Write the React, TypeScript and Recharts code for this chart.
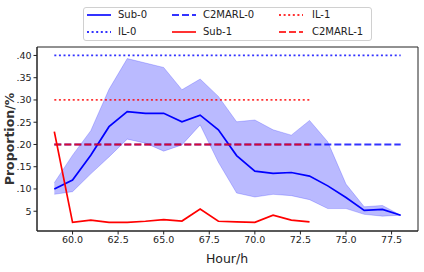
import React from 'react';
import { ComposedChart, Line, Area, XAxis, YAxis, ReferenceArea, Label } from 'recharts';

const hours = [59, 60, 61, 62, 63, 64, 65, 66, 67, 68, 69, 70, 71, 72, 73, 74, 75, 76, 77, 78];
const sub0 = [10.0, 12.0, 17.6, 24.0, 27.4, 27.0, 27.0, 25.1, 26.6, 23.3, 17.5, 14.0, 13.5, 13.7, 12.9, 10.7, 8.1, 5.2, 5.4, 4.1];
const sub0Low = [8.8, 9.4, 13.4, 17.2, 21.2, 20.3, 18.5, 19.9, 24.4, 16.0, 9.1, 8.2, 8.8, 8.5, 7.6, 5.6, 5.6, 4.3, 3.9, 4.1];
const sub0High = [11.4, 17.6, 23.1, 32.4, 39.3, 38.3, 37.3, 32.3, 34.7, 30.8, 25.1, 25.5, 23.3, 22.1, 25.4, 20.6, 11.1, 6.0, 6.3, 4.1];
const sub1 = [22.9, 2.5, 3.0, 2.5, 2.5, 2.75, 3.1, 2.8, 5.5, 2.75, 2.6, 2.5, 4.1, 3.0, 2.6];
const il0Level = 40;
const c2marl0Level = 20;
const il1Level = 30;
const c2marl1Level = 20;

const xTicks = [60, 62.5, 65, 67.5, 70, 72.5, 75, 77.5];
const yTicks = [5, 10, 15, 20, 25, 30, 35, 40];
const yTickLabels = ['5', '.10', '.15', '.20', '.25', '.30', '.35', '.40'];

const rows = hours.map((h, i) => ({
  hour: h,
  sub0: sub0[i],
  band: [sub0Low[i], sub0High[i]],
  il0: il0Level,
  c2marl0: c2marl0Level,
  sub1: i < sub1.length ? sub1[i] : null,
  il1: i < sub1.length ? il1Level : null,
  c2marl1: i < sub1.length ? c2marl1Level : null,
}));

const BLUE = '#0000ff';
const RED = '#ff0000';
const DOT = '2 2.6';
const DASH = '7 3';

const legendItems = [
  { name: 'Sub-0', color: BLUE, dash: undefined, op: 0.8, col: 0, row: 0 },
  { name: 'IL-0', color: BLUE, dash: DOT, op: 0.8, col: 0, row: 1 },
  { name: 'C2MARL-0', color: BLUE, dash: DASH, op: 0.8, col: 1, row: 0 },
  { name: 'Sub-1', color: RED, dash: undefined, op: 0.8, col: 1, row: 1 },
  { name: 'IL-1', color: RED, dash: DOT, op: 0.8, col: 2, row: 0 },
  { name: 'C2MARL-1', color: RED, dash: DASH, op: 0.8, col: 2, row: 1 },
];
const colHandleX = [3, 88, 195];
const colTextX = [34, 119, 228];
const rowY = [7, 23.5];

const font = 'DejaVu Sans, sans-serif';

export default function App() {
  return (
    <div style={{ position: 'absolute', left: 0, top: 0, width: 424, height: 272, fontFamily: font, background: '#fff' }}>
      <ComposedChart width={424} height={272} data={rows} margin={{ top: 47, right: 6, bottom: 0, left: 7 }} style={{ fontFamily: font }}>
        <XAxis
          dataKey="hour"
          type="number"
          domain={[58.05, 78.95]}
          ticks={xTicks}
          tickFormatter={(v: number) => v.toFixed(1)}
          height={41}
          stroke="#222"
          tick={{ fill: '#222', fontSize: 9.5 }}
          tickSize={3.5}
          allowDataOverflow
        >
          <Label
            content={() => (
              <text x={227} y={263} textAnchor="middle" fontSize={12.5} fill="#222" fontFamily={font}>
                Hour/h
              </text>
            )}
          />
        </XAxis>
        <YAxis
          type="number"
          domain={[0.56, 41.9]}
          ticks={yTicks}
          tickFormatter={(v: number) => yTickLabels[yTicks.indexOf(v)]}
          width={30}
          stroke="#222"
          tick={{ fill: '#222', fontSize: 9.5 }}
          tickSize={3.5}
          allowDataOverflow
        >
          <Label
            content={() => (
              <text
                x={9}
                y={139}
                transform="rotate(-90 9 139)"
                textAnchor="middle"
                dominantBaseline="central"
                fontSize={12.5}
                fontWeight="bold"
                fill="#333"
                fontFamily={font}
              >
                Proportion/%
              </text>
            )}
          />
        </YAxis>
        <Area
          dataKey="band"
          type="linear"
          fill={BLUE}
          fillOpacity={0.27}
          stroke={BLUE}
          strokeOpacity={0.2}
          strokeWidth={1}
          isAnimationActive={false}
          dot={false}
          activeDot={false}
        />
        <Line dataKey="sub0" type="linear" stroke={BLUE} strokeWidth={1.7} dot={false} isAnimationActive={false} />
        <Line dataKey="il0" type="linear" stroke={BLUE} strokeOpacity={0.8} strokeWidth={1.8} strokeDasharray={DOT} dot={false} isAnimationActive={false} />
        <Line dataKey="c2marl0" type="linear" stroke={BLUE} strokeOpacity={0.8} strokeWidth={2} strokeDasharray={DASH} dot={false} isAnimationActive={false} />
        <Line dataKey="sub1" type="linear" stroke={RED} strokeWidth={1.7} dot={false} isAnimationActive={false} />
        <Line dataKey="il1" type="linear" stroke={RED} strokeOpacity={0.8} strokeWidth={1.8} strokeDasharray={DOT} dot={false} isAnimationActive={false} />
        <Line dataKey="c2marl1" type="linear" stroke={RED} strokeOpacity={0.8} strokeWidth={2} strokeDasharray={DASH} dot={false} isAnimationActive={false} />
        <ReferenceArea x1={58.05} x2={78.95} y1={0.56} y2={41.9} fill="none" stroke="#222" strokeWidth={1} ifOverflow="visible" />
      </ComposedChart>
      <div
        style={{
          position: 'absolute',
          left: 83,
          top: 7,
          width: 287,
          height: 32,
          border: '1px solid #d0d0d0',
          borderRadius: 3,
          background: '#fff',
        }}
      >
        {legendItems.map((it) => (
          <React.Fragment key={it.name}>
            <svg
              width={24}
              height={6}
              style={{ position: 'absolute', left: colHandleX[it.col], top: rowY[it.row] - 3 }}
            >
              <line
                x1={0}
                y1={3}
                x2={24}
                y2={3}
                stroke={it.color}
                strokeOpacity={it.op}
                strokeWidth={2}
                strokeDasharray={it.dash}
              />
            </svg>
            <span
              style={{
                position: 'absolute',
                left: colTextX[it.col],
                top: rowY[it.row] - 7,
                fontSize: 10,
                lineHeight: '14px',
                color: '#222',
                whiteSpace: 'nowrap',
              }}
            >
              {it.name}
            </span>
          </React.Fragment>
        ))}
      </div>
    </div>
  );
}
